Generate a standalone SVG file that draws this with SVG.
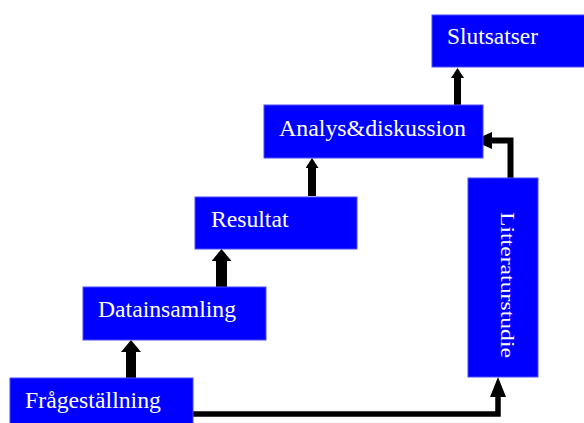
<svg xmlns="http://www.w3.org/2000/svg" width="584" height="423" viewBox="0 0 584 423">
  <style>
    .box { fill: #0000ff; stroke: #4a4aff; stroke-width: 1; }
    .lbl { fill: #ffffff; font-family: "Liberation Serif", "Times New Roman", serif; font-size: 23px; }
    .conn { fill: none; stroke: #000000; stroke-linejoin: miter; }
  </style>
  <defs>
    <marker id="headBig" markerUnits="userSpaceOnUse" markerWidth="12" markerHeight="20" viewBox="0 0 12 20" refX="0" refY="10" orient="auto">
      <path d="M0,0 L12,10 L0,20 Z" fill="#000"/>
    </marker>
    <marker id="headSmall" markerUnits="userSpaceOnUse" markerWidth="10" markerHeight="13" viewBox="0 0 10 13" refX="0" refY="6.5" orient="auto">
      <path d="M0,0 L10,6.5 L0,13 Z" fill="#000"/>
    </marker>
    <marker id="headLong" markerUnits="userSpaceOnUse" markerWidth="19" markerHeight="17" viewBox="0 0 19 17" refX="0" refY="8.5" orient="auto">
      <path d="M0,0 L19,8.5 L0,17 Z" fill="#000"/>
    </marker>
    <marker id="headLongV" markerUnits="userSpaceOnUse" markerWidth="20" markerHeight="16" viewBox="0 0 20 16" refX="0" refY="8" orient="auto">
      <path d="M0,0 L20,8 L0,16 Z" fill="#000"/>
    </marker>
  </defs>

  <g id="connectors">
    <path class="conn" d="M131,378 V352" stroke-width="10" marker-end="url(#headBig)"/>
    <path class="conn" d="M221.5,287 V261" stroke-width="11" marker-end="url(#headBig)"/>
    <path class="conn" d="M312,196 V168" stroke-width="8" marker-end="url(#headSmall)"/>
    <path class="conn" d="M457.5,105 V78" stroke-width="7" marker-end="url(#headSmall)"/>
    <path class="conn" d="M510.5,178 V140.5 H492" stroke-width="6" marker-end="url(#headLong)"/>
    <path class="conn" d="M191,414 H498 V397" stroke-width="5.5" marker-end="url(#headLongV)"/>
  </g>

  <g id="fragestallning">
    <rect class="box" x="10" y="378" width="183" height="50"/>
    <text class="lbl" x="25" y="408" textLength="136" lengthAdjust="spacingAndGlyphs">Frågeställning</text>
  </g>
  <g id="datainsamling">
    <rect class="box" x="83" y="287" width="183" height="53"/>
    <text class="lbl" x="98" y="316.5" textLength="138" lengthAdjust="spacingAndGlyphs">Datainsamling</text>
  </g>
  <g id="resultat">
    <rect class="box" x="195" y="197" width="162" height="52"/>
    <text class="lbl" x="211" y="226.5" textLength="77.5" lengthAdjust="spacingAndGlyphs">Resultat</text>
  </g>
  <g id="analys">
    <rect class="box" x="264" y="105" width="219" height="53"/>
    <text class="lbl" x="279" y="136" textLength="187" lengthAdjust="spacingAndGlyphs">Analys&amp;diskussion</text>
  </g>
  <g id="slutsatser">
    <rect class="box" x="432" y="15" width="156" height="52"/>
    <text class="lbl" x="447" y="43.5" textLength="91" lengthAdjust="spacingAndGlyphs">Slutsatser</text>
  </g>
  <g id="litteraturstudie">
    <rect class="box" x="468" y="178" width="70" height="199"/>
    <text class="lbl" transform="translate(500.5,212) rotate(90) scale(1,0.8)" textLength="146" lengthAdjust="spacingAndGlyphs">Litteraturstudie</text>
  </g>
</svg>
